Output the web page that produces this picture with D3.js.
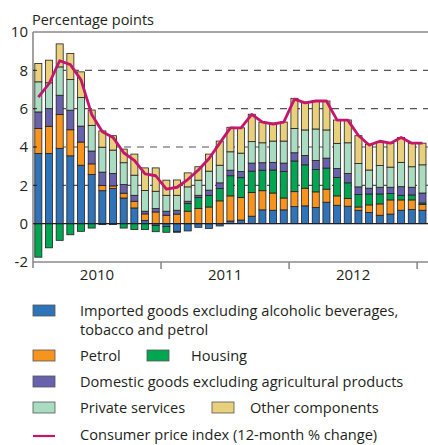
<!DOCTYPE html>
<html lang="en">
<head>
  <meta charset="UTF-8">
  <title>Consumer price index components</title>
  <script src="https://d3js.org/d3.v7.min.js"></script>
  <style>
    body { margin: 0; background: #fff; }
    svg text { font-family: "Open Sans", sans-serif; fill: #231f20; }
    .bar rect { stroke: #231f20; stroke-width: 0.8px; }
    .grid line { stroke: #555; stroke-width: 1.2px; stroke-dasharray: 7 6; }
  </style>
</head>
<body>
  <svg width="428" height="445"></svg>

  <script>
    // months Jan 2010 - Jan 2013
    const months = d3.range(37).map(i => d3.timeMonth.offset(new Date(2010, 0, 1), i));
    const years = ["2010", "2011", "2012"];
    const yTicks = [-2, 0, 2, 4, 6, 8, 10];

    // contributions, percentage points
    const imported = [3.66,3.66,3.93,3.54,3.05,2.57,1.72,1.83,1.34,0.82,0.17,-0.10,
                      -0.15,-0.40,-0.38,-0.19,-0.25,-0.12,0.14,0.19,0.39,0.72,0.70,0.72,
                      0.89,0.93,0.84,1.12,0.96,0.91,0.70,0.58,0.44,0.50,0.70,0.74,0.70];
    const petrol   = [1.30,1.42,1.76,1.36,1.21,0.55,0.27,0.14,0.25,0.35,0.34,0.61,
                      0.44,0.50,0.65,0.79,0.87,1.19,1.31,1.18,1.24,1.00,0.90,0.62,
                      0.78,0.92,0.82,0.68,0.49,0.40,0.17,0.40,0.59,0.74,0.54,0.50,0.30];
    const housing  = [-1.75,-1.26,-0.87,-0.58,-0.40,-0.23,-0.05,-0.05,-0.23,-0.31,-0.31,-0.32,
                      -0.30,-0.05,0.40,0.57,0.61,0.64,1.05,1.03,1.11,1.07,1.20,1.38,
                      1.60,1.22,1.17,1.10,0.96,0.82,0.65,0.57,0.52,0.33,0.24,0.26,0.08];
    const domestic = [0.87,0.92,1.01,1.02,0.83,0.67,0.70,0.65,0.45,0.31,0.14,0.18,
                      0.21,0.20,0.12,0.12,0.27,0.30,0.29,0.32,0.42,0.39,0.40,0.44,
                      0.43,0.49,0.47,0.52,0.47,0.49,0.40,0.30,0.35,0.33,0.45,0.40,0.52];
    const services = [1.57,1.35,1.48,1.60,1.49,1.34,1.30,1.22,1.14,1.05,1.08,0.90,
                      0.83,0.78,0.75,0.79,0.99,0.92,0.96,0.96,1.12,1.04,1.11,1.15,
                      1.27,1.33,1.64,1.47,1.31,1.60,1.22,0.95,1.13,1.05,1.27,1.07,1.47];
    const other    = [0.96,1.18,1.20,1.36,1.34,0.80,0.85,0.75,0.71,1.10,1.18,1.22,
                      0.79,0.80,0.73,0.70,0.89,1.26,1.28,1.32,1.43,1.08,0.93,0.99,
                      1.57,1.45,1.46,1.51,1.22,1.19,1.45,1.35,1.25,1.25,1.30,1.23,1.13];
    const cpi      = [6.6,7.3,8.5,8.3,7.5,5.7,4.8,4.5,3.7,3.3,2.6,2.5,
                      1.8,1.9,2.3,2.8,3.4,4.2,5.0,5.0,5.7,5.3,5.2,5.3,
                      6.5,6.3,6.4,6.4,5.4,5.4,4.6,4.1,4.3,4.2,4.5,4.2,4.2];

    const seriesKeys = ["imported", "petrol", "housing", "domestic", "services", "other"];
    const colors = {
      imported: "#2f73b8",
      petrol: "#f7941d",
      housing: "#00a651",
      domestic: "#6862ad",
      services: "#a9dcc1",
      other: "#e8d07c"
    };

    const table = months.map((m, i) => ({
      month: m,
      imported: imported[i], petrol: petrol[i], housing: housing[i],
      domestic: domestic[i], services: services[i], other: other[i]
    }));

    const svg = d3.select("svg");
    const plotLeft = 33, plotRight = 427.8, plotTop = 32, plotBottom = 262;

    const x = d3.scaleBand()
      .domain(months)
      .range([plotLeft, plotRight])
      .paddingInner(0.34)
      .paddingOuter(0.17);
    const step = x.step();

    const y = d3.scaleLinear().domain([-2, 10]).range([plotBottom, plotTop]);

    // dashed grid
    svg.append("g").attr("class", "grid")
      .selectAll("line")
      .data([2, 4, 6, 8])
      .join("line")
      .attr("x1", plotLeft).attr("x2", 428)
      .attr("y1", d => y(d)).attr("y2", d => y(d));

    // stacked bars
    const stack = d3.stack().keys(seriesKeys).offset(d3.stackOffsetDiverging);
    const layers = stack(table);

    svg.append("g").selectAll("g")
      .data(layers)
      .join("g")
      .attr("class", "bar")
      .attr("fill", d => colors[d.key])
      .selectAll("rect")
      .data(d => d)
      .join("rect")
      .attr("x", d => x(d.data.month))
      .attr("width", x.bandwidth())
      .attr("y", d => y(Math.max(d[0], d[1])))
      .attr("height", d => Math.abs(y(d[0]) - y(d[1])));

    // zero line
    svg.append("line")
      .attr("x1", plotLeft).attr("x2", 428)
      .attr("y1", y(0)).attr("y2", y(0))
      .attr("stroke", "#231f20").attr("stroke-width", 1.2);

    // CPI line
    const line = d3.line()
      .x((d, i) => x(months[i]) + x.bandwidth() / 2)
      .y(d => y(d));
    svg.append("path")
      .datum(cpi)
      .attr("fill", "none")
      .attr("stroke", "#c4166c")
      .attr("stroke-width", 2.8)
      .attr("stroke-linejoin", "round")
      .attr("d", line);

    // frame
    const frame = svg.append("g").attr("stroke", "#8a8a8a").attr("stroke-width", 1.6);
    frame.append("line").attr("x1", plotLeft).attr("x2", 428).attr("y1", plotTop).attr("y2", plotTop);
    frame.append("line").attr("x1", plotLeft).attr("x2", 428).attr("y1", plotBottom).attr("y2", plotBottom);
    frame.append("line").attr("x1", plotLeft).attr("x2", plotLeft).attr("y1", plotTop).attr("y2", plotBottom + 6);
    [1, 2, 3].forEach(k => {
      const xx = plotLeft + 12 * step * k;
      frame.append("line").attr("x1", xx).attr("x2", xx).attr("y1", plotBottom).attr("y2", plotBottom + 7);
    });

    // y tick marks and labels
    svg.append("g").selectAll("line")
      .data(yTicks.filter(d => d > -2 && d < 10))
      .join("line")
      .attr("x1", plotLeft).attr("x2", plotLeft + 4)
      .attr("y1", d => y(d)).attr("y2", d => y(d))
      .attr("stroke", "#231f20").attr("stroke-width", 1);

    svg.append("g").selectAll("text")
      .data(yTicks)
      .join("text")
      .attr("x", 28)
      .attr("y", d => y(d))
      .attr("dy", "0.36em")
      .attr("text-anchor", "end")
      .attr("font-size", 15)
      .text(d => d);

    // year labels
    svg.append("g").selectAll("text")
      .data(years)
      .join("text")
      .attr("x", (d, i) => plotLeft + 12 * step * (i + 0.5))
      .attr("y", 280)
      .attr("text-anchor", "middle")
      .attr("font-size", 15)
      .text(d => d);

    svg.append("text")
      .attr("x", 32).attr("y", 25)
      .attr("font-size", 14.5)
      .text("Percentage points");

    // legend
    const legend = svg.append("g").attr("font-size", 14.6);
    const swatch = (xx, yy, key) => legend.append("rect")
      .attr("x", xx).attr("y", yy).attr("width", 22).attr("height", 11)
      .attr("fill", colors[key]).attr("stroke", "#555").attr("stroke-width", 0.8);
    const label = (xx, yy, t) => legend.append("text").attr("x", xx).attr("y", yy).text(t);

    swatch(33, 305, "imported");
    label(80, 316, "Imported goods excluding alcoholic beverages,");
    label(80, 335, "tobacco and petrol");
    swatch(33, 350, "petrol");
    label(80, 361, "Petrol");
    swatch(147, 350, "housing");
    label(191, 361, "Housing");
    swatch(33, 376, "domestic");
    label(80, 387, "Domestic goods excluding agricultural products");
    swatch(33, 402, "services");
    label(80, 413, "Private services");
    swatch(212, 402, "other");
    label(250, 413, "Other components");
    legend.append("line")
      .attr("x1", 33).attr("x2", 55).attr("y1", 436).attr("y2", 436)
      .attr("stroke", "#c4166c").attr("stroke-width", 2.2);
    label(80, 440, "Consumer price index (12-month % change)");
  </script>
</body>
</html>
